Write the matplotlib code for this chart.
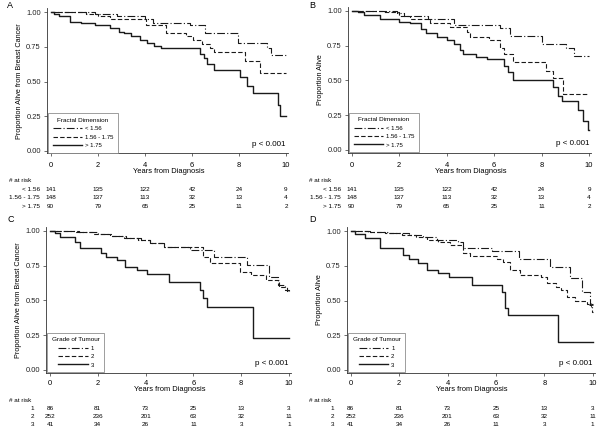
import matplotlib
matplotlib.use("Agg")
import matplotlib.pyplot as plt
from matplotlib.transforms import blended_transform_factory

plt.rcParams['font.family'] = ['Liberation Sans', 'DejaVu Sans']

# ---- survival estimates ----
# A: breast cancer specific survival by fractal dimension
a_t1 = [0, 1.9, 2.8, 4.0, 4.35, 5.9, 6.55, 7.95, 9.2, 9.35, 10]
a_s1 = [1.0, 0.99, 0.97, 0.955, 0.925, 0.91, 0.85, 0.78, 0.74, 0.695, 0.695]
a_t2 = [0, 1.5, 2.0, 2.5, 4.05, 4.9, 5.75, 6.05, 6.45, 6.75, 6.95, 8.25, 8.9, 10]
a_s2 = [1.0, 0.99, 0.975, 0.955, 0.91, 0.85, 0.83, 0.80, 0.77, 0.74, 0.71, 0.645, 0.565, 0.565]
a_t3 = [0, 0.15, 0.35, 0.8, 1.3, 1.9, 2.5, 2.9, 3.1, 3.4, 3.8, 4.1, 4.4, 4.7,
        6.35, 6.5, 6.65, 6.95, 8.05, 8.35, 8.6, 9.65, 9.75, 10]
a_s3 = [1.0, 0.99, 0.97, 0.93, 0.92, 0.91, 0.89, 0.86, 0.85, 0.83, 0.80, 0.78, 0.76, 0.74,
        0.70, 0.67, 0.63, 0.58, 0.53, 0.47, 0.42, 0.33, 0.25, 0.25]

# B: overall survival by fractal dimension
b_t1 = [0, 1.9, 2.2, 3.2, 4.3, 6.25, 6.65, 8.0, 9.05, 9.35, 10]
b_s1 = [1.0, 0.98, 0.96, 0.94, 0.895, 0.875, 0.82, 0.76, 0.73, 0.675, 0.675]
b_t2 = [0, 1.3, 2.0, 2.45, 3.3, 4.15, 4.85, 5.0, 5.8, 6.25, 6.4, 6.8, 8.2, 8.5, 8.9, 10]
b_s2 = [1.0, 0.99, 0.96, 0.94, 0.91, 0.88, 0.85, 0.81, 0.79, 0.73, 0.69, 0.63, 0.57, 0.52, 0.40, 0.40]
b_t3 = [0, 0.28, 0.5, 1.2, 2.0, 2.45, 2.9, 3.15, 3.6, 4.0, 4.3, 4.55, 4.7, 5.25, 5.7,
        6.4, 6.6, 6.8, 8.5, 8.7, 8.85, 9.55, 9.75, 9.95, 10]
b_s3 = [1.0, 0.99, 0.97, 0.94, 0.92, 0.91, 0.87, 0.84, 0.81, 0.79, 0.76, 0.72, 0.69, 0.67, 0.65,
        0.60, 0.56, 0.50, 0.45, 0.39, 0.355, 0.285, 0.21, 0.14, 0.14]

# C: breast cancer specific survival by grade
c_t1 = [0, 0.5, 1.2, 2.0, 2.6, 3.2, 3.8, 4.2, 4.75, 5.85, 6.85, 8.25, 9.15, 9.55, 9.85, 10]
c_s1 = [1.0, 0.996, 0.99, 0.975, 0.96, 0.95, 0.935, 0.91, 0.885, 0.862, 0.813, 0.754, 0.67, 0.61, 0.574, 0.565]
c_t2 = [0, 0.4, 1.0, 1.8, 2.5, 3.1, 3.7, 4.2, 4.75, 6.4, 6.7, 7.95, 8.4, 9.05, 9.6, 9.9, 10]
c_s2 = [1.0, 0.995, 0.99, 0.978, 0.965, 0.95, 0.935, 0.91, 0.88, 0.81, 0.766, 0.706, 0.682, 0.646, 0.598, 0.565, 0.56]
c_t3 = [0, 0.2, 0.42, 1.05, 1.25, 2.15, 2.35, 2.8, 3.15, 3.65, 4.05, 5.0, 6.28, 6.42, 6.56, 8.5, 10]
c_s3 = [1.0, 0.98, 0.957, 0.92, 0.875, 0.838, 0.814, 0.79, 0.742, 0.718, 0.687, 0.63, 0.574, 0.515, 0.455, 0.227, 0.227]

# D: overall survival by grade
d_t1 = [0, 0.8, 1.6, 2.4, 3.0, 3.55, 4.45, 4.65, 5.85, 6.95, 8.25, 9.05, 9.55, 9.9, 9.97, 10]
d_s1 = [1.0, 0.995, 0.985, 0.97, 0.955, 0.935, 0.92, 0.88, 0.856, 0.80, 0.743, 0.66, 0.563, 0.47, 0.42, 0.42]
d_t2 = [0, 0.7, 1.4, 2.1, 2.7, 3.15, 3.6, 4.1, 4.65, 4.95, 6.05, 6.3, 6.6, 7.0, 7.85, 8.1, 8.5, 8.7,
        8.95, 9.25, 9.75, 10]
d_s2 = [1.0, 0.995, 0.985, 0.97, 0.955, 0.935, 0.92, 0.90, 0.84, 0.823, 0.80, 0.776, 0.72, 0.683,
        0.671, 0.623, 0.599, 0.575, 0.527, 0.496, 0.478, 0.478]
d_t3 = [0, 0.18, 0.6, 1.2, 2.15, 2.4, 2.8, 3.15, 3.6, 4.05, 5.0, 6.25, 6.38, 6.5, 8.55, 10]
d_s3 = [1.0, 0.976, 0.952, 0.875, 0.827, 0.796, 0.772, 0.72, 0.695, 0.667, 0.611, 0.563, 0.444, 0.396, 0.199, 0.199]

# censor mark seen in D
d_cens_t = [9.93]
d_cens_s = [0.468]

fd_labels = ["< 1.56", "1.56 - 1.75", "> 1.75"]
grade_labels = ["1", "2", "3"]
risk_years = [0, 2, 4, 6, 8, 10]
fd_risk = [[141, 135, 122, 42, 24, 9],
           [148, 137, 113, 32, 13, 4],
           [90, 79, 65, 25, 11, 2]]
grade_risk = [[86, 81, 73, 25, 13, 3],
              [252, 236, 201, 63, 32, 11],
              [41, 34, 26, 11, 3, 1]]

W, H = 600, 434
fig = plt.figure(figsize=(6.0, 4.34), dpi=100)

styles = [dict(ls=(0, (7, 2, 1, 2)), lw=0.8),
          dict(ls=(0, (4, 2)), lw=0.8),
          dict(ls='-', lw=1.0)]
col = '#1a1a1a'


def panel(x0, x10, y1, y0, curves, labels, title, ylabel, letter,
          risk, row_x, hdr_x, hdr_y, row_y, lab_y, tick_y):
    pxu = (x10 - x0) / 10.0
    pyu = (y0 - y1)
    left = x0 - 0.17 * pxu
    right = x0 + 10.1 * pxu
    top = y1 - 0.03 * pyu
    bottom = y0 + 0.02 * pyu
    ax = fig.add_axes([left / W, 1 - bottom / H, (right - left) / W, (bottom - top) / H])
    for (t, s), st, lab in zip(curves, styles, labels):
        ax.step(t, s, where='post', color=col, label=lab, **st)
    ax.set_xlim(-0.17, 10.1)
    ax.set_ylim(-0.02, 1.03)
    ax.set_xticks(risk_years)
    ax.set_yticks([0, 0.25, 0.5, 0.75, 1.0])
    ax.set_yticklabels(["0.00", "0.25", "0.50", "0.75", "1.00"])
    ax.set_xticklabels([])
    for sp in ['top', 'right']:
        ax.spines[sp].set_visible(False)
    for sp in ['left', 'bottom']:
        ax.spines[sp].set_linewidth(0.6)
        ax.spines[sp].set_color('#333333')
    ax.tick_params(labelsize=5.4, length=2, width=0.5, pad=2.2, colors='#333333',
                   labelcolor='#222222')
    ax.set_ylabel(ylabel, fontsize=5.2, labelpad=2.5)
    ax.text(10, 0.02, "p < 0.001", ha='right', va='bottom', fontsize=5.8)
    leg = ax.legend(loc='lower left', bbox_to_anchor=(0.006, 0.005), fontsize=4.3,
                    title=title, title_fontsize=4.6, fancybox=False, edgecolor='#777777',
                    framealpha=1, handlelength=5.0, handletextpad=0.45, labelspacing=0.55,
                    borderpad=0.75, borderaxespad=0.0)
    leg.get_frame().set_linewidth(0.5)
    fig.text(letter[0] / W, 1 - letter[1] / H, letter[2], fontsize=6.5, ha='left', va='center')

    tr = blended_transform_factory(ax.transData, fig.transFigure)
    for yr in risk_years:
        ax.text(yr, 1 - tick_y / H, str(yr), transform=tr, ha='center', va='center', fontsize=5.4)
    ax.text(5, 1 - lab_y / H, "Years from Diagnosis", transform=tr, ha='center', va='center', fontsize=5.4)
    fig.text(hdr_x / W, 1 - hdr_y / H, "# at risk", ha='left', va='center', fontsize=4.6)
    for row, lab, yy in zip(risk, labels, row_y):
        ax.text(row_x, 1 - yy / H, lab, transform=tr, ha='right', va='center', fontsize=4.6)
        for yr, n in zip(risk_years, row):
            ax.text(yr, 1 - yy / H, str(n), transform=tr, ha='center', va='center', fontsize=4.6)
    return ax


panel(50.7, 286, 12.3, 150.7, [(a_t1, a_s1), (a_t2, a_s2), (a_t3, a_s3)], fd_labels,
      "Fractal Dimension", "Proportion Alive from Breast Cancer", (7, 6, "A"),
      fd_risk, -0.45, 9, 180, [189.3, 197.7, 206], 171.5, 165)
panel(351.7, 589, 10.7, 150, [(b_t1, b_s1), (b_t2, b_s2), (b_t3, b_s3)], fd_labels,
      "Fractal Dimension", "Proportion Alive", (309, 6, "B"),
      fd_risk, -0.46, 309, 180, [189.3, 197.7, 206], 171.5, 165)
panel(50, 289, 230.7, 370, [(c_t1, c_s1), (c_t2, c_s2), (c_t3, c_s3)], grade_labels,
      "Grade of Tumour", "Proportion Alive from Breast Cancer", (7, 220, "C"),
      grade_risk, -0.66, 9, 400, [408.3, 416.7, 425], 389.8, 383.3)
axd = panel(350.7, 592.7, 231, 370, [(d_t1, d_s1), (d_t2, d_s2), (d_t3, d_s3)], grade_labels,
            "Grade of Tumour", "Proportion Alive", (309, 220, "D"),
            grade_risk, -0.68, 309, 400, [408.3, 416.7, 425], 389.8, 383.3)
axd.plot(d_cens_t, d_cens_s, '+', color=col, ms=3, mew=0.6)

fig.savefig("out.png", dpi=100)
